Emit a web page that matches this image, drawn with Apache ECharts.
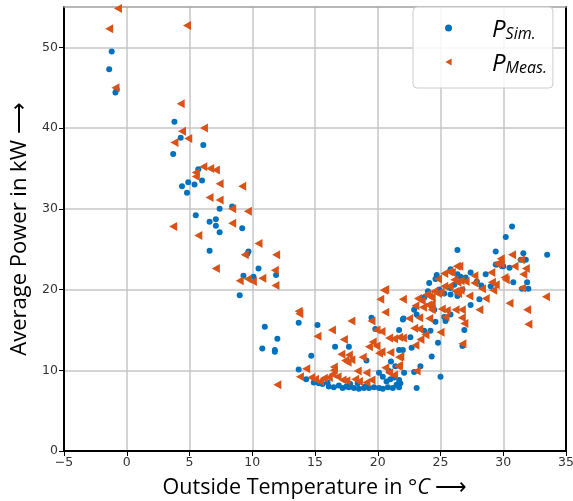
<!DOCTYPE html>
<html>
<head>
<meta charset="utf-8">
<script src="https://cdn.jsdelivr.net/npm/echarts@6/dist/echarts.min.js"></script>
<style>
html,body{margin:0;padding:0;background:#fff;overflow:hidden;}
#c{width:573px;height:501px;}
</style>
</head>
<body>
<div id="c"></div>
<script>
// ---- data ----
const xTicks = [-5, 0, 5, 10, 15, 20, 25, 30, 35];
const yTicks = [0, 10, 20, 30, 40, 50];
const seriesNames = ['sim', 'meas'];

const simPoints = [
  [-1.2,49.5],[-1.4,47.3],[-0.8,44.8],[-0.9,44.4],
  [3.8,40.8],[4.3,38.8],[6.1,37.9],[3.7,36.8],
  [5.7,34.9],[6.0,33.5],[4.9,33.3],[4.4,32.8],[5.4,33.0],[4.8,32.0],
  [8.4,30.3],[7.4,30.0],[5.5,29.2],[7.1,28.7],[6.6,28.4],[7.1,27.9],[7.4,27.1],[9.2,27.6],
  [6.6,24.8],[9.7,24.7],[9.6,24.4],[10.5,22.6],[10.1,21.6],[9.3,21.7],[9.0,19.3],
  [11.9,21.8],[11.0,15.4],[12.0,13.9],[10.8,12.7],[11.8,12.5],[11.8,12.3],
  [13.7,15.9],[15.2,15.6],[16.6,12.9],[17.7,12.9],[14.7,11.8],[19.1,11.2],[19.5,16.5],[19.8,15.1],
  [13.7,10.1],[14.3,8.9],[14.9,8.5],[15.3,8.4],[15.6,8.3],[16.0,8.5],[16.1,8.0],[16.9,8.1],
  [17.2,7.8],[17.5,8.0],[17.7,7.9],[18.1,7.8],[18.5,7.7],[18.9,7.8],[19.3,7.8],[19.7,7.9],
  [20.1,7.8],[20.4,7.7],[20.8,7.9],[21.2,7.8],[16.5,7.9],[17.8,8.3],[18.4,8.4],[19.0,8.0],
  [20.1,9.7],[20.4,9.2],[20.7,8.6],[21.0,8.9],[21.5,8.2],[20.9,9.9],[21.3,9.1],
  [21.05,11.1],[22.1,9.7],[23.4,10.5],[24.3,11.7],[24.8,13.4],[26.75,13.0],[26.9,15.0],
  [25.0,9.2],[23.1,7.8],[22.9,9.8],[21.4,10.5],[21.7,8.8],[21.7,7.9],[21.8,8.4],
  [22.0,16.3],[21.7,15.0],[24.6,16.0],[25.4,16.1],[24.2,14.9],[23.7,14.9],[22.6,14.1],
  [21.7,12.5],[22.0,12.5],[22.7,12.8],
  [26.35,24.9],[29.4,24.7],[29.4,23.1],[29.5,23.1],[29.9,22.9],[25.8,22.5],[24.7,21.8],
  [26.35,21.9],[26.6,21.6],[27.0,21.5],[28.6,21.9],[24.1,20.8],[24.6,21.3],[28.25,20.5],
  [29.0,20.4],[24.9,20.0],[24.0,19.8],[23.7,19.0],[25.3,19.5],[25.8,19.4],[26.35,19.6],
  [28.1,18.8],[27.4,18.1],[22.9,17.5],[23.1,16.9],[24.3,17.9],[24.5,17.5],[25.8,16.9],
  [22.05,16.4],[25.8,20.2],[26.1,20.6],[26.75,20.0],[26.35,19.2],[25.3,16.6],[27.4,22.1],[27.9,21.0],
  [30.7,27.8],[30.2,26.5],[31.6,24.5],[33.5,24.3],[31.8,23.7],[31.4,23.7],[30.0,22.9],
  [30.5,22.7],[30.8,20.9],[31.9,20.9],[31.5,20.1],[32.0,20.1]
];

const measPoints = [
  [-0.7,54.8],[-1.4,52.3],[4.8,52.7],[-0.9,45.0],[4.3,43.0],[6.15,40.0],[4.4,39.6],[4.9,38.7],[3.8,38.2],
  [6.1,35.2],[6.65,35.0],[7.1,34.8],[5.5,34.5],[5.5,34.0],[7.4,33.1],[9.2,32.8],[6.6,31.4],[7.4,31.1],
  [8.4,30.0],[9.65,29.7],[3.7,27.8],[8.4,28.2],[5.7,26.7],[10.5,25.7],[9.4,24.3],[7.1,22.6],[9.0,21.1],
  [9.65,21.3],[10.05,21.0],
  [11.9,24.3],[11.8,22.4],[10.8,21.4],[11.85,20.5],[12.0,8.2],
  [13.7,17.3],[13.75,17.0],[16.35,15.0],[17.9,16.1],[15.2,14.2],[17.3,13.8],[20.5,19.9],[20.2,18.8],
  [20.6,17.2],[19.5,16.1],[19.9,15.0],[20.3,14.8],[20.9,14.0],[21.3,13.9],[19.6,13.5],[19.3,12.9],
  [19.9,13.0],[20.3,12.3],[20.1,12.1],[21.0,12.2],[17.1,12.0],[17.4,11.2],[17.6,11.0],[17.9,11.3],
  [17.7,11.9],[18.8,11.6],[16.5,10.4],[16.5,10.0],[18.4,9.9],[19.1,9.7],[14.3,10.2],[13.8,9.2],
  [20.6,10.3],[20.9,9.7],
  [14.7,9.1],[15.0,8.9],[15.4,8.6],[15.7,9.0],[16.1,9.1],[16.4,9.5],[16.8,9.2],[17.2,8.8],
  [17.5,8.7],[18.2,8.9],[18.5,8.6],[19.1,8.5],[19.5,8.8],
  [22.5,16.4],[26.9,15.8],[22.9,15.2],[23.3,15.1],[25.0,14.7],[23.8,14.4],[21.7,14.1],[22.0,14.0],
  [23.4,13.8],[23.0,13.1],[26.75,13.3],[21.7,11.6],[21.6,10.5],[23.1,9.9],[21.3,9.4],[21.8,11.7],[21.7,10.6],
  [26.5,22.9],[26.3,22.9],[25.3,22.0],[25.7,22.2],[25.9,22.1],[27.7,21.7],[29.05,22.1],[29.5,23.2],
  [29.8,23.2],[24.8,21.3],[26.1,21.2],[26.35,20.9],[26.6,21.1],[27.0,21.0],[25.3,20.4],[25.7,20.4],
  [27.7,20.8],[29.1,20.9],[29.4,20.6],[28.3,20.1],[29.2,19.9],[24.5,19.8],[24.8,19.5],[25.0,19.7],
  [26.2,19.8],[26.4,19.5],[26.6,19.9],[23.9,19.4],[24.1,19.2],[24.3,19.0],[27.3,19.2],[28.6,18.9],
  [23.2,18.9],[23.5,18.6],[23.0,18.0],[23.6,17.8],[24.0,18.1],[24.3,18.2],[24.3,17.5],[25.1,17.6],
  [25.5,17.4],[26.7,17.5],[26.2,17.5],[22.0,18.8],[23.3,16.5],[24.1,16.4],[28.1,17.5],[25.4,16.6],
  [26.7,16.5],[20.6,20.0],
  [30.7,24.3],[29.8,23.8],[31.4,23.7],[30.9,22.9],[31.8,22.6],[31.6,21.9],[30.1,21.5],[30.2,21.2],
  [31.5,20.2],[33.4,19.1],[30.5,18.3],[31.9,17.5],[32.0,15.7]
];

// ---- chart ----
const chart = echarts.init(document.getElementById('c'), null, {renderer: 'canvas'});
const tickFont = {fontFamily: 'DejaVu Sans', fontSize: 12.5, color: '#333'};
const triPath = 'path://M0,5 L9,0 L9,10 Z';
const minusFmt = function (v) { return String(v).replace('-', '\u2212'); };

chart.setOption({
  animation: false,
  backgroundColor: '#fff',
  grid: {left: 64, right: 7, top: 7, bottom: 50, containLabel: false, outerBoundsMode: 'none'},
  legend: {
    orient: 'vertical',
    left: 413, top: 7,
    backgroundColor: 'rgba(255,255,255,0.85)',
    borderColor: '#cccccc', borderWidth: 1, borderRadius: 4,
    padding: [11, 6, 12, 32],
    itemGap: 10,
    itemWidth: 7, itemHeight: 7,
    data: seriesNames,
    formatter: function (n) { return n === 'sim' ? '{p|P}{s|Sim.}' : '{p|P}{s|Meas.}'; },
    textStyle: {
      color: '#000',
      rich: {
        p: {fontFamily: 'Open Sans', fontStyle: 'italic', fontSize: 24, lineHeight: 28, verticalAlign: 'bottom', padding: [0, 0, 0, 35]},
        s: {fontFamily: 'Open Sans', fontStyle: 'italic', fontSize: 16, lineHeight: 10, verticalAlign: 'bottom'}
      }
    }
  },
  xAxis: [{
    type: 'value', min: xTicks[0], max: xTicks[xTicks.length - 1], interval: 5,
    position: 'bottom',
    name: '{n|Outside Temperature in °}{i|C}{n| ⟶}',
    nameLocation: 'middle', nameGap: 26,
    nameTextStyle: {rich: {
      n: {fontFamily: 'Open Sans', fontSize: 21.5, color: '#000'},
      i: {fontFamily: 'Open Sans', fontStyle: 'italic', fontSize: 21.5, color: '#000'}
    }},
    axisLine: {onZero: false, lineStyle: {color: '#000', width: 2}},
    axisTick: {show: true, inside: false, length: 5, lineStyle: {color: '#000', width: 1}},
    axisLabel: Object.assign({margin: 5, formatter: minusFmt}, tickFont),
    splitLine: {show: true, lineStyle: {color: '#c6c6c6', width: 1.5}}
  }, {
    type: 'value', min: xTicks[0], max: xTicks[xTicks.length - 1], position: 'top',
    axisLine: {onZero: false, lineStyle: {color: '#a0a0a0', width: 1.5}},
    axisTick: {show: false}, axisLabel: {show: false}, splitLine: {show: false}
  }],
  yAxis: [{
    type: 'value', min: 0, max: 55, interval: 10,
    position: 'left',
    name: 'Average Power in kW ⟶',
    nameLocation: 'middle', nameGap: 27,
    nameTextStyle: {fontFamily: 'Open Sans', fontSize: 22, color: '#000'},
    axisLine: {onZero: false, lineStyle: {color: '#000', width: 2}},
    axisTick: {show: true, inside: false, length: 5, customValues: yTicks, lineStyle: {color: '#000', width: 1}},
    axisLabel: Object.assign({margin: 6, customValues: yTicks}, tickFont),
    splitLine: {show: true, lineStyle: {color: '#c6c6c6', width: 1.5}}
  }, {
    type: 'value', min: 0, max: 55, position: 'right',
    axisLine: {show: true, onZero: false, lineStyle: {color: '#000', width: 2}},
    axisTick: {show: false}, axisLabel: {show: false}, splitLine: {show: false}
  }],
  series: [{
    name: 'sim', type: 'scatter', xAxisIndex: 0, yAxisIndex: 0,
    data: simPoints, symbol: 'circle', symbolSize: 6,
    itemStyle: {color: '#0072BD', opacity: 1}
  }, {
    name: 'meas', type: 'scatter', xAxisIndex: 0, yAxisIndex: 0,
    data: measPoints, symbol: triPath, symbolSize: [8, 9],
    itemStyle: {color: '#D95319', opacity: 1}
  }]
});
</script>
</body>
</html>
